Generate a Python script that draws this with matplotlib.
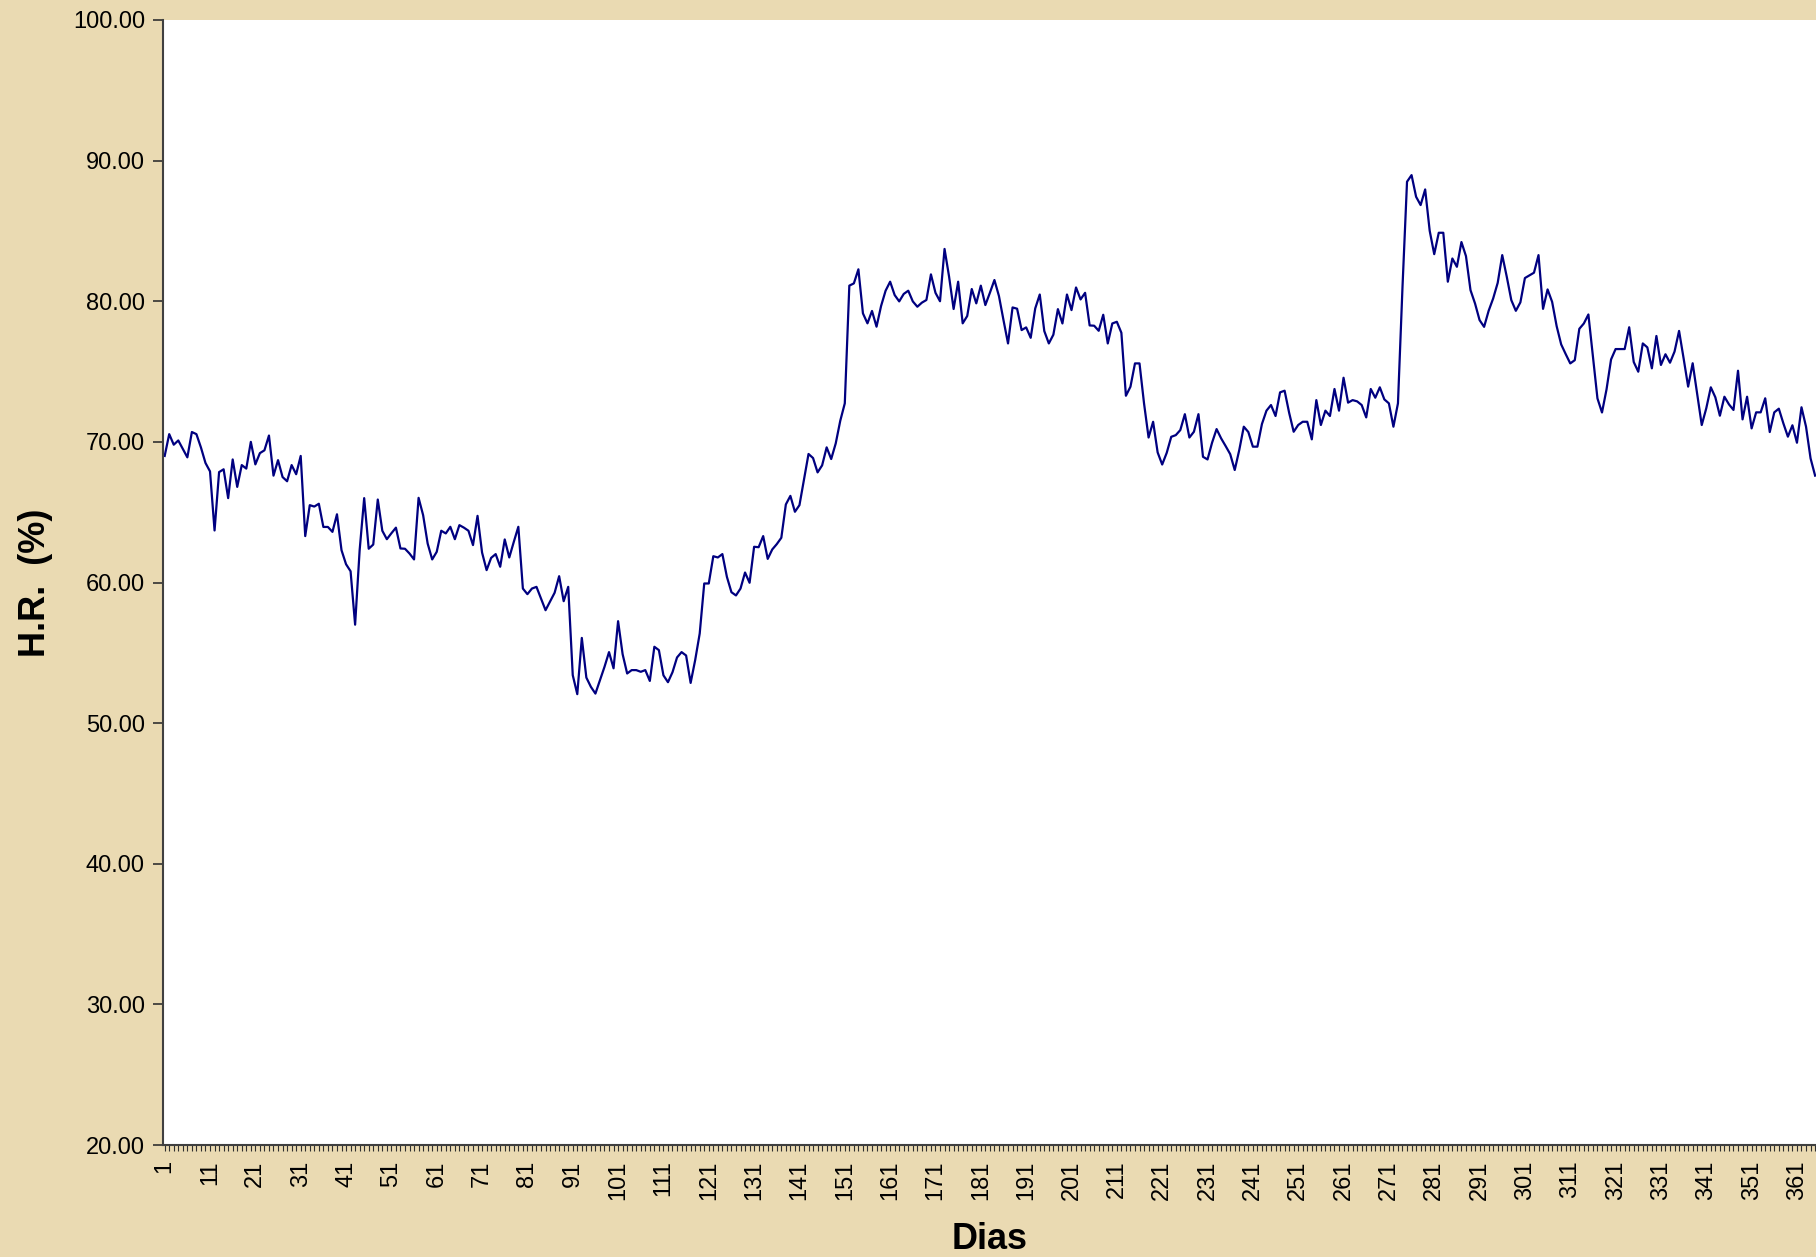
import numpy as np
import matplotlib
matplotlib.use('Agg')
import matplotlib.pyplot as plt

# Humedad relativa diaria (%)
dias = np.arange(1, 366)
humedad = [
    69.0, 70.55, 69.8, 70.1, 69.5, 68.9, 70.7, 70.55, 69.6, 68.5,
    67.9, 63.7, 67.85, 68.05, 66.0, 68.75, 66.8, 68.35, 68.1, 70.0,
    68.4, 69.2, 69.4, 70.45, 67.6, 68.7, 67.5, 67.2, 68.35, 67.7,
    69.0, 63.3, 65.5, 65.4, 65.6, 63.95, 63.95, 63.6, 64.85, 62.3,
    61.3, 60.8, 57.0, 62.3, 66.0, 62.4, 62.7, 65.9, 63.68, 63.08,
    63.5, 63.9, 62.42, 62.4, 62.06, 61.64, 66.02, 64.79, 62.77, 61.64,
    62.18, 63.68, 63.49, 63.96, 63.08, 64.08, 63.9, 63.68, 62.66, 64.74,
    62.13, 60.88, 61.75, 62.02, 61.12, 63.06, 61.78, 62.89, 63.96, 59.57,
    59.17, 59.57, 59.69, 58.86, 58.03, 58.65, 59.27, 60.45, 58.67, 59.69,
    53.41, 52.06, 56.06, 53.24, 52.58, 52.1, 53.05, 54.0, 55.05, 53.9,
    57.25, 54.9, 53.53, 53.77, 53.77, 53.65, 53.77, 53.0, 55.43, 55.19,
    53.4, 52.91, 53.62, 54.67, 55.05, 54.81, 52.86, 54.48, 56.37, 59.93,
    59.93, 61.87, 61.78, 62.02, 60.4, 59.31, 59.08, 59.57, 60.71, 59.98,
    62.54, 62.51, 63.3, 61.68, 62.35, 62.73, 63.18, 65.55, 66.16, 65.03,
    65.5, 67.3, 69.14, 68.85, 67.83, 68.33, 69.61, 68.78, 69.89, 71.5,
    72.74, 81.11, 81.27, 82.27, 79.14, 78.43, 79.31, 78.19, 79.66, 80.75,
    81.39, 80.44, 79.99, 80.52, 80.75, 79.99, 79.61, 79.9, 80.09, 81.91,
    80.6, 80.0, 83.72, 81.75, 79.45, 81.39, 78.43, 78.95, 80.87, 79.85,
    81.11, 79.73, 80.6, 81.51, 80.37, 78.66, 77.0, 79.56, 79.47, 77.95,
    78.14, 77.4, 79.49, 80.48, 77.88, 77.0, 77.62, 79.44, 78.42, 80.48,
    79.37, 80.98, 80.13, 80.6, 78.28, 78.26, 77.9, 79.04, 77.0, 78.42,
    78.54, 77.76, 73.28, 73.92, 75.58, 75.58, 72.73, 70.31, 71.43, 69.25,
    68.39, 69.22, 70.36, 70.48, 70.84, 71.97, 70.31, 70.72, 71.97, 68.94,
    68.75, 69.94, 70.91, 70.25, 69.7, 69.13, 68.0, 69.42, 71.08, 70.7,
    69.66, 69.66, 71.27, 72.22, 72.62, 71.84, 73.52, 73.64, 72.07, 70.72,
    71.2, 71.43, 71.43, 70.18, 72.97, 71.2, 72.22, 71.84, 73.76, 72.22,
    74.56, 72.79, 72.97, 72.88, 72.62, 71.74, 73.76, 73.14, 73.88, 73.02,
    72.74, 71.08, 72.74, 81.0, 88.5, 88.97, 87.43, 86.84, 87.95, 85.01,
    83.35, 84.87, 84.87, 81.39, 83.04, 82.45, 84.21, 83.21, 80.79, 79.84,
    78.66, 78.18, 79.32, 80.2, 81.31, 83.28, 81.74, 80.08, 79.32, 79.92,
    81.65, 81.84, 82.03, 83.28, 79.46, 80.84, 79.96, 78.23, 76.93, 76.24,
    75.58, 75.81, 78.04, 78.42, 79.06, 76.05, 73.09, 72.09, 73.73, 75.86,
    76.6, 76.6, 76.6, 78.15, 75.68, 74.99, 77.0, 76.72, 75.23, 77.53,
    75.47, 76.23, 75.63, 76.42, 77.89, 75.94, 73.93, 75.59, 73.4, 71.2,
    72.39, 73.88, 73.17, 71.86, 73.21, 72.67, 72.27, 75.06, 71.6, 73.21,
    70.96, 72.1, 72.1, 73.1, 70.7, 72.1, 72.36, 71.32, 70.37, 71.18,
    69.94, 72.46, 71.08, 68.83, 67.6,
]
etiquetas_x = np.arange(1, 366, 10)
marcas_y = np.arange(20, 101, 10)

plt.rcParams['font.family'] = ['Liberation Sans', 'DejaVu Sans']

fig = plt.figure(figsize=(18.16, 12.57), dpi=100)
fig.patch.set_facecolor('#EADAB2')
ax = fig.add_axes([163/1816, 1 - 1145/1257, 1 - 163/1816, 1125/1257])
ax.set_facecolor('white')

ax.plot(dias, humedad, color='#000080', linewidth=1.6)

ax.set_xlim(0.63, 365.2)
ax.set_ylim(20, 100)
ax.set_yticks(marcas_y)
ax.set_yticklabels(['%.2f' % v for v in marcas_y], fontsize=17)
ax.set_xticks(etiquetas_x)
ax.set_xticklabels([str(d) for d in etiquetas_x], rotation=90, fontsize=17)
ax.set_xticks(dias, minor=True)
ax.tick_params(axis='y', length=7, width=1.2, pad=6, colors='#303030', labelcolor='black')
ax.tick_params(axis='x', which='both', length=4, width=0.8, pad=7, colors='#303030', labelcolor='black')

for lado in ['top', 'right']:
    ax.spines[lado].set_visible(False)
for lado in ['left', 'bottom']:
    ax.spines[lado].set_color('#404040')
    ax.spines[lado].set_linewidth(1.5)

ax.set_xlabel('Dias', fontsize=26, fontweight='bold')
ax.xaxis.set_label_coords(0.5, -0.084)
ax.xaxis.label.set_va('center')
ax.set_ylabel('H.R.  (%)', fontsize=26, fontweight='bold')
ax.yaxis.set_label_coords(-0.077, 0.5)
ax.yaxis.label.set_va('center')

fig.savefig('out.png', dpi=100, facecolor=fig.get_facecolor())
